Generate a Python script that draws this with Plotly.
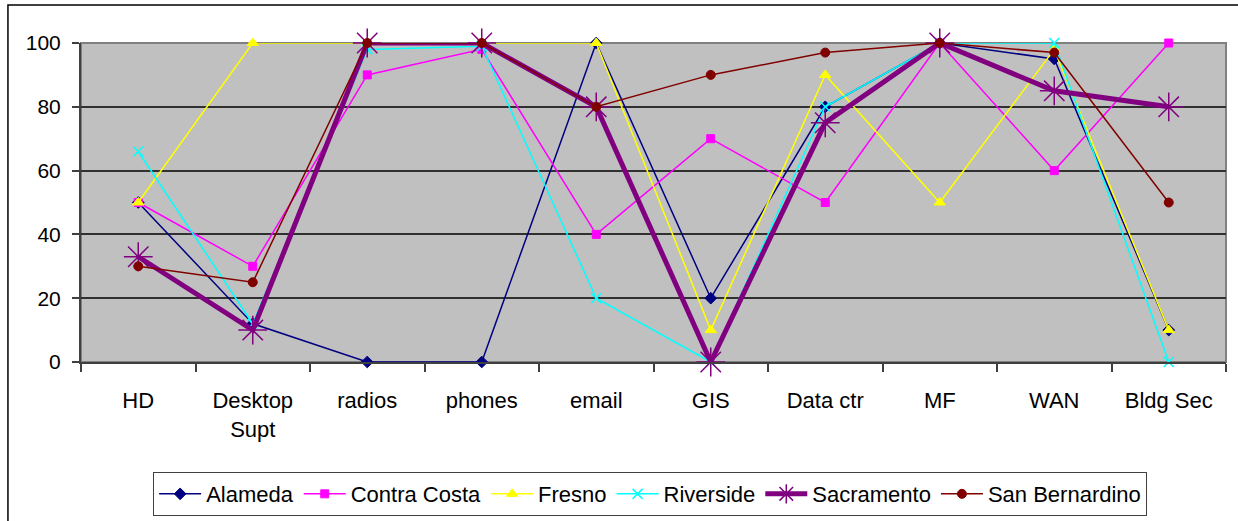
import plotly.graph_objects as go

categories = ["HD", "Desktop<br>Supt", "radios", "phones", "email", "GIS", "Data ctr", "MF", "WAN", "Bldg Sec"]

alameda = [50, 12, 0, 0, 100, 20, 80, 100, 95, 10]
contra_costa = [50, 30, 90, 98, 40, 70, 50, 100, 60, 100]
fresno = [50, 100, 100, 100, 100, 10, 90, 50, 98, 10]
riverside = [66, 12, 98, 99, 20, 0, 80, 100, 100, 0]
sacramento = [33, 10, 100, 100, 80, 0, 75, 100, 85, 80]
san_bernardino = [30, 25, 100, 100, 80, 90, 97, 100, 97, 50]

series = [
    ("Alameda", alameda, "#000080", "diamond", 9, 1.5, 1),
    ("Contra Costa", contra_costa, "#FF00FF", "square", 8, 1.5, 1),
    ("Fresno", fresno, "#FFFF00", "triangle-up", 10, 1.5, 1),
    ("Riverside", riverside, "#00FFFF", "x-thin-open", 10, 1.5, 1.5),
    ("Sacramento", sacramento, "#800080", "asterisk-open", 24, 5, 1.5),
    ("San Bernardino", san_bernardino, "#800000", "circle", 9, 1.5, 1),
]

fig = go.Figure()
for name, vals, color, sym, size, lw, mlw in series:
    fig.add_trace(go.Scatter(
        x=categories, y=vals, name=name, mode="lines+markers",
        line=dict(color=color, width=lw),
        marker=dict(symbol=sym, size=size, color=color,
                    line=dict(color=color, width=mlw)),
        cliponaxis=False,
    ))

fig.update_layout(
    width=1238, height=521,
    margin=dict(l=81, r=12, t=43, b=159, autoexpand=False),
    paper_bgcolor="white",
    plot_bgcolor="#C0C0C0",
    font=dict(family="Liberation Sans, Arial, sans-serif", color="black"),
    showlegend=True,
    legend=dict(
        orientation="h", x=0.063, y=-0.345, xanchor="left", yanchor="top",
        bordercolor="#404040", borderwidth=1, bgcolor="white",
        font=dict(size=22), itemwidth=42, tracegroupgap=0,
    ),
    shapes=[
        dict(type="rect", xref="paper", yref="paper", x0=0, x1=1, y0=0, y1=1,
             line=dict(color="#808080", width=2), layer="below"),
        dict(type="rect", xref="paper", yref="paper",
             x0=-0.0638, x1=1.02, y0=-0.52, y1=1.119,
             line=dict(color="black", width=1.5), layer="below"),
    ],
)

fig.update_xaxes(
    type="category", range=[-0.5, 9.5], tickson="boundaries",
    ticks="outside", ticklen=8, tickcolor="#404040", tickwidth=1.5,
    showline=True, linecolor="#404040", linewidth=2,
    showgrid=False, tickfont=dict(size=22), ticklabelstandoff=18,
)
fig.update_yaxes(
    range=[0, 100], dtick=20, tick0=0,
    ticks="outside", ticklen=7, tickcolor="#404040", tickwidth=1.5,
    showline=True, linecolor="#404040", linewidth=2,
    showgrid=True, gridcolor="#303030", gridwidth=1.5, zeroline=False,
    tickfont=dict(size=21), ticklabelstandoff=7,
)

fig.write_html(
    "out.html",
    config={"displayModeBar": False},
    post_script="document.body.style.margin='0';document.body.style.overflow='hidden';",
)
